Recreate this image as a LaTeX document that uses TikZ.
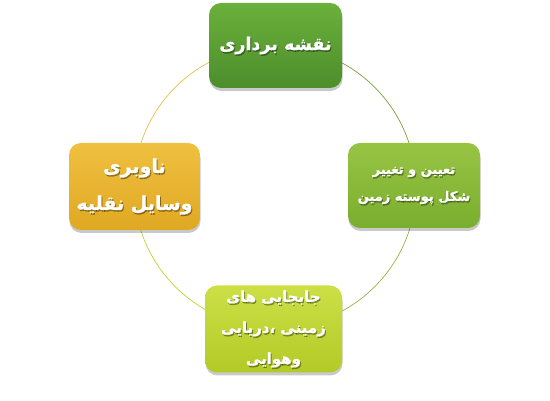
\documentclass[tikz,border=0pt]{standalone}
\usepackage{fontspec}
\TeXXeTstate=1
\newfontfamily\arabicfont[Script=Arabic, BoldFeatures={FakeBold=1.3}]{DejaVu Sans}
\usetikzlibrary{shadows}
\definecolor{gtop}{HTML}{6BB03C}
\definecolor{gbot}{HTML}{4C8E2B}
\definecolor{rtop}{HTML}{98C444}
\definecolor{rbot}{HTML}{7AAE2E}
\definecolor{ltop}{HTML}{F0C040}
\definecolor{lbot}{HTML}{E0A822}
\definecolor{btop}{HTML}{CCE046}
\definecolor{bbot}{HTML}{B2CA26}
\definecolor{arcTR}{HTML}{7E9E3C}
\definecolor{arcTL}{HTML}{E4C04A}
\definecolor{arcBL}{HTML}{BCD432}
\definecolor{arcBR}{HTML}{92B443}
\begin{document}
\begin{tikzpicture}[x=1pt,y=1pt,
  box/.style={rounded corners=12pt, draw=none,
    drop shadow={shadow xshift=0.5pt, shadow yshift=-3pt, opacity=0.3, fill=black!70}},
  lbl/.style={text=white, align=center, inner sep=0pt},
  lblshadow/.style={text=black, opacity=0.35, align=center, inner sep=0pt},
  ftop/.style={font=\arabicfont\bfseries\fontsize{17.5}{30}\selectfont},
  fright/.style={font=\arabicfont\bfseries\fontsize{13}{27}\selectfont},
  fleft/.style={font=\arabicfont\bfseries\fontsize{19}{37}\selectfont},
  fbottom/.style={font=\arabicfont\bfseries\fontsize{15}{31}\selectfont},
  arcline/.style={line width=0.7pt}
]
\useasboundingbox (0,0) rectangle (550,401);
\coordinate (ctr) at (275,214);
% arcs (circle quadrants)
\draw[arcline, arcTR] ([shift={(0:141)}]ctr) arc[start angle=0, end angle=90, radius=141];
\draw[arcline, arcTL] ([shift={(90:141)}]ctr) arc[start angle=90, end angle=180, radius=141];
\draw[arcline, arcBL] ([shift={(180:141)}]ctr) arc[start angle=180, end angle=270, radius=141];
\draw[arcline, arcBR] ([shift={(270:141)}]ctr) arc[start angle=270, end angle=360, radius=141];
% boxes
\node[box, top color=gtop, bottom color=gbot, minimum width=133, minimum height=85] (top) at (275.5,355.5) {};
\node[box, top color=rtop, bottom color=rbot, minimum width=132, minimum height=85] (right) at (414,215.5) {};
\node[box, top color=ltop, bottom color=lbot, minimum width=131, minimum height=87] (left) at (134.5,214.5) {};
\node[box, top color=btop, bottom color=bbot, minimum width=137, minimum height=87] (bottom) at (273.5,72) {};
% labels
\def\toptext{\beginR نقشه برداری\endR}
\def\righttext{\beginR تعیین و تغییر\endR\\\beginR شکل پوسته زمین\endR}
\def\lefttext{\beginR ناوبری\endR\\\beginR وسایل نقلیه\endR}
\def\bottomtext{\beginR جابجایی های\endR\\\beginR زمینی ،دریایی\endR\\\beginR وهوایی\endR}
\node[lblshadow, ftop] at ([shift={(1,-1.5)}]top.center) {\toptext};
\node[lbl, ftop] (toplbl) at (top.center) {\toptext};
\node[lblshadow, fright] at ([shift={(1,-1.5)}]right.center) {\righttext};
\node[lbl, fright] (rightlbl) at (right.center) {\righttext};
\node[lblshadow, fleft] at ([shift={(1,-1.5)}]left.center) {\lefttext};
\node[lbl, fleft] (leftlbl) at (left.center) {\lefttext};
\node[lblshadow, fbottom] at ([shift={(1,-1.5)}]bottom.center) {\bottomtext};
\node[lbl, fbottom] (bottomlbl) at (bottom.center) {\bottomtext};
\end{tikzpicture}
\end{document}
